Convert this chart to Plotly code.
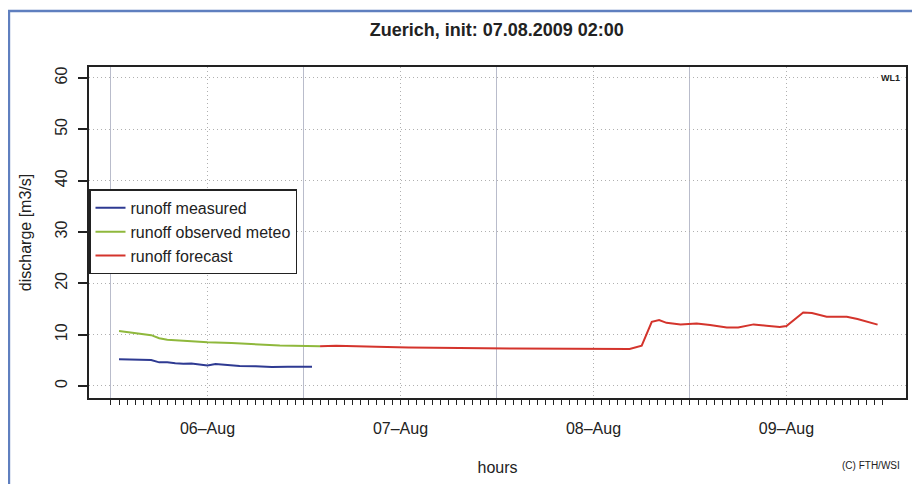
import plotly.graph_objects as go
import pandas as pd

# runoff measured (blue)
measured_time = ["2009-08-06 01:00", "2009-08-06 04:00", "2009-08-06 05:00", "2009-08-06 06:00",
                 "2009-08-06 07:00", "2009-08-06 08:00", "2009-08-06 09:00", "2009-08-06 10:00",
                 "2009-08-06 11:00", "2009-08-06 12:00", "2009-08-06 13:00", "2009-08-06 14:00",
                 "2009-08-06 15:00", "2009-08-06 16:00", "2009-08-06 18:00", "2009-08-06 20:00",
                 "2009-08-06 22:00", "2009-08-07 01:00"]
measured_q = [5.2, 5.15, 5.05, 4.6, 4.6, 4.45, 4.35, 4.4, 4.2, 4.0, 4.3, 4.2,
              4.0, 3.9, 3.85, 3.7, 3.75, 3.76]

# runoff observed meteo (green)
meteo_time = ["2009-08-06 01:00", "2009-08-06 03:00", "2009-08-06 05:00", "2009-08-06 06:00",
              "2009-08-06 07:00", "2009-08-06 09:00", "2009-08-06 12:00", "2009-08-06 15:00",
              "2009-08-06 17:00", "2009-08-06 21:00", "2009-08-07 02:00"]
meteo_q = [10.7, 10.25, 9.9, 9.3, 9.0, 8.8, 8.5, 8.35, 8.2, 7.9, 7.75]

# runoff forecast (red)
forecast_time = ["2009-08-07 02:00", "2009-08-07 04:00", "2009-08-07 09:00", "2009-08-07 13:00",
                 "2009-08-08 02:00", "2009-08-08 14:00", "2009-08-08 16:30", "2009-08-08 18:00",
                 "2009-08-08 19:15", "2009-08-08 20:10", "2009-08-08 21:05", "2009-08-08 22:50",
                 "2009-08-09 00:50", "2009-08-09 02:30", "2009-08-09 04:35", "2009-08-09 06:00",
                 "2009-08-09 07:55", "2009-08-09 09:30", "2009-08-09 11:10", "2009-08-09 12:00",
                 "2009-08-09 14:05", "2009-08-09 15:10", "2009-08-09 17:00", "2009-08-09 19:30",
                 "2009-08-09 20:50", "2009-08-09 23:20"]
forecast_q = [7.75, 7.85, 7.65, 7.5, 7.3, 7.15, 7.2, 7.85, 12.5, 12.85, 12.3, 12.0,
              12.15, 11.9, 11.4, 11.4, 12.0, 11.75, 11.5, 11.7, 14.3, 14.2, 13.5, 13.5,
              13.05, 11.95]

day_ticks = ["2009-08-06", "2009-08-07", "2009-08-08", "2009-08-09"]
day_labels = ["06\u2013Aug", "07\u2013Aug", "08\u2013Aug", "09\u2013Aug"]
noon_ticks = [d + " 12:00" for d in day_ticks]
hour_ticks = pd.date_range("2009-08-06 00:00", "2009-08-10 00:00", freq="h").strftime("%Y-%m-%d %H:%M").tolist()

x_range = ["2009-08-05 21:16", "2009-08-10 02:52"]
y_range = [-2.34, 62.14]

FONT = "Liberation Sans, Arial, sans-serif"
INK = "#222222"
DOTS = "1px,3px"

fig = go.Figure()
fig.add_trace(go.Scatter(x=measured_time, y=measured_q, mode="lines", name="runoff measured",
                         line=dict(color="#2e3a92", width=2)))
fig.add_trace(go.Scatter(x=meteo_time, y=meteo_q, mode="lines", name="runoff observed meteo",
                         line=dict(color="#8fb83c", width=2)))
fig.add_trace(go.Scatter(x=forecast_time, y=forecast_q, mode="lines", name="runoff forecast",
                         line=dict(color="#d4342c", width=2)))
# empty trace so the label axis is drawn
fig.add_trace(go.Scatter(x=[], y=[], xaxis="x2", showlegend=False, hoverinfo="skip"))

# page body has an 8px margin, so the figure is 8px smaller than the window
fig.update_layout(
    width=912, height=476,
    margin=dict(l=81, r=14, t=59, b=86),
    paper_bgcolor="white", plot_bgcolor="white",
    font=dict(family=FONT, size=16, color=INK),
    title=dict(text="<b>Zuerich, init: 07.08.2009 02:00</b>", x=0.536, xanchor="center",
               y=0.954, yanchor="middle", font=dict(size=18, color=INK)),
    showlegend=True,
    legend=dict(x=0, xanchor="left", y=0.63, yanchor="top", bgcolor="white",
                bordercolor=INK, borderwidth=1.5, font=dict(size=16, color=INK),
                tracegroupgap=0),
    xaxis=dict(
        type="date", range=x_range, automargin=False,
        tickmode="array", tickvals=day_ticks, ticktext=["", "", "", ""],
        ticks="outside", ticklen=10, tickwidth=1.5, tickcolor=INK,
        minor=dict(tickmode="array", tickvals=hour_ticks, ticks="outside", ticklen=5,
                   tickwidth=1.2, tickcolor=INK, showgrid=False),
        showgrid=True, gridcolor="#b9bccb", gridwidth=1,
        showline=True, linecolor=INK, linewidth=1.5, mirror=True,
        zeroline=False,
        title=dict(text="hours", standoff=50, font=dict(size=16, color=INK)),
    ),
    xaxis2=dict(
        type="date", range=x_range, overlaying="x", side="bottom", automargin=False,
        tickmode="array", tickvals=noon_ticks, ticktext=day_labels,
        ticks="", ticklabelstandoff=19, tickfont=dict(size=16, color=INK),
        showgrid=True, gridcolor="#b0b0b0", griddash=DOTS, gridwidth=1,
        showline=False, zeroline=False,
    ),
    yaxis=dict(
        range=y_range, automargin=False, tickmode="array", tickvals=[0, 10, 20, 30, 40, 50, 60],
        tickangle=-90, ticks="outside", ticklen=9, tickwidth=1.5, tickcolor=INK,
        ticklabelstandoff=5, tickfont=dict(size=16, color=INK),
        showgrid=True, gridcolor="#b0b0b0", griddash=DOTS, gridwidth=1,
        showline=True, linecolor=INK, linewidth=1.5, mirror=True,
        zeroline=False,
        title=dict(text="discharge [m3/s]", standoff=17, font=dict(size=16, color=INK)),
    ),
)

fig.add_annotation(text="<b>WL1</b>", xref="paper", yref="y", x=0.995, y=60,
                   xanchor="right", yanchor="middle", showarrow=False,
                   font=dict(size=9, color=INK), bgcolor="white")
fig.add_annotation(text="(C) FTH/WSI", xref="paper", yref="paper", x=0.995, y=-0.205,
                   xanchor="right", yanchor="middle", showarrow=False,
                   font=dict(size=10, color=INK))

# outer blue frame of the graphic
fig.add_shape(type="rect", xref="paper", yref="paper", x0=-0.098, x1=1.03, y0=-0.3, y1=1.169,
              line=dict(color="#5f7fbf", width=2.5), fillcolor="rgba(0,0,0,0)", layer="below")

fig.write_html("out.html")
